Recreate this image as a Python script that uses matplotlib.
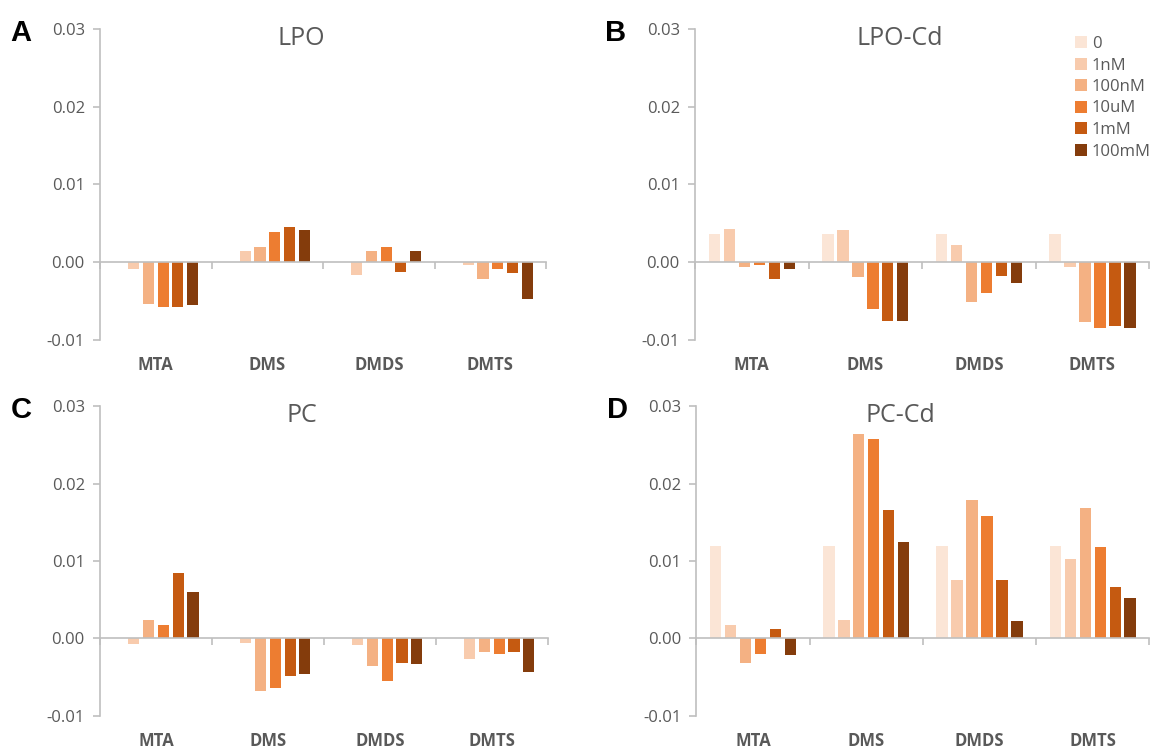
import numpy as np
import matplotlib
matplotlib.use("Agg")
import matplotlib.pyplot as plt
from matplotlib.transforms import blended_transform_factory

plt.rcParams['font.family'] = ['Open Sans', 'DejaVu Sans']

compounds = ["MTA", "DMS", "DMDS", "DMTS"]
concs = ["0", "1nM", "100nM", "10uM", "1mM", "100mM"]
colors = ["#FBE5D6", "#F8CBAD", "#F4B183", "#ED7D31", "#C55A11", "#843C0C"]

# rows = concentration, columns = compound
lpo = [
    [0.0, 0.0, 0.0, 0.0],
    [-0.0009, 0.0015, -0.0016, -0.0003],
    [-0.0054, 0.0020, 0.0015, -0.0022],
    [-0.0058, 0.0039, 0.0019, -0.0009],
    [-0.0058, 0.0045, -0.0012, -0.0014],
    [-0.0055, 0.0042, 0.0015, -0.0047],
]
lpo_cd = [
    [0.0036, 0.0036, 0.0036, 0.0036],
    [0.0043, 0.0041, 0.0022, -0.0006],
    [-0.0006, -0.0019, -0.0051, -0.0077],
    [-0.0003, -0.0060, -0.0039, -0.0084],
    [-0.0021, -0.0075, -0.0018, -0.0082],
    [-0.0009, -0.0076, -0.0027, -0.0084],
]
pc = [
    [0.0, 0.0, 0.0, 0.0],
    [-0.0007, -0.0006, -0.0009, -0.0026],
    [0.0024, -0.0068, -0.0036, -0.0018],
    [0.0018, -0.0064, -0.0055, -0.0020],
    [0.0085, -0.0048, -0.0032, -0.0018],
    [0.0060, -0.0046, -0.0033, -0.0043],
]
pc_cd = [
    [0.0119, 0.0119, 0.0119, 0.0119],
    [0.0018, 0.0024, 0.0075, 0.0103],
    [-0.0031, 0.0264, 0.0179, 0.0169],
    [-0.0020, 0.0257, 0.0158, 0.0118],
    [0.0012, 0.0166, 0.0075, 0.0067],
    [-0.0021, 0.0125, 0.0022, 0.0052],
]

panels = [
    ("A", "LPO", lpo, [0.0867, 0.5461, 0.3865, 0.4152]),
    ("B", "LPO-Cd", lpo_cd, [0.6023, 0.5461, 0.3935, 0.4152]),
    ("C", "PC", pc, [0.0867, 0.0441, 0.3880, 0.4138]),
    ("D", "PC-Cd", pc_cd, [0.6035, 0.0441, 0.3925, 0.4138]),
]

axis_grey = "#BFBFBF"
text_grey = "#595959"
slot = 0.132
bar_w = 0.10

fig = plt.figure(figsize=(11.54, 7.49), dpi=100)

x = np.arange(len(compounds))
for letter, title, data, rect in panels:
    ax = fig.add_axes(rect)
    for i, (lab, col) in enumerate(zip(concs, colors)):
        ax.bar(x + (i - 2.5) * slot, data[i], width=bar_w, color=col,
               label=lab, zorder=2)
    ax.set_xlim(-0.5, 3.5)
    ax.set_ylim(-0.01, 0.03)
    ax.set_yticks([-0.01, 0.0, 0.01, 0.02, 0.03])
    ax.set_yticklabels(["-0.01", "0.00", "0.01", "0.02", "0.03"])
    ax.set_xticks([-0.5, 0.5, 1.5, 2.5, 3.5])
    ax.set_xticklabels([])
    for s in ["top", "right"]:
        ax.spines[s].set_visible(False)
    ax.spines["bottom"].set_position(("data", 0))
    ax.spines["bottom"].set_zorder(3)
    for s in ["left", "bottom"]:
        ax.spines[s].set_color(axis_grey)
        ax.spines[s].set_linewidth(1.2)
    ax.tick_params(axis="both", direction="out", length=5, width=1.2,
                   color=axis_grey, labelcolor=text_grey, labelsize=12)
    ax.tick_params(axis="y", pad=6)
    trans = blended_transform_factory(ax.transData, ax.transAxes)
    for xi, name in zip(x, compounds):
        ax.text(xi, -0.08, name, transform=trans, ha="center", va="center",
                fontsize=12, fontweight="bold", color=text_grey)
    ax.text(0.45, 0.968, title, transform=ax.transAxes, ha="center",
            va="center", fontsize=18, color=text_grey)
    # panel letter, left of the y tick labels
    x0 = rect[0] * 1154
    fig.text((x0 - 79) / 1154, rect[1] + rect[3] - 0.0055, letter,
             ha="center", va="center", fontsize=21, fontweight="bold",
             family="Liberation Sans", color="black")
    if letter == "B":
        ax.legend(loc="upper left", bbox_to_anchor=(1075 / 1154, 1 - 36 / 749),
                  bbox_transform=fig.transFigure, frameon=False, fontsize=12,
                  handlelength=0.72, handleheight=0.72, handletextpad=0.3,
                  labelspacing=0.33, borderpad=0, borderaxespad=0,
                  labelcolor=text_grey)

fig.savefig("out.png", dpi=100)
